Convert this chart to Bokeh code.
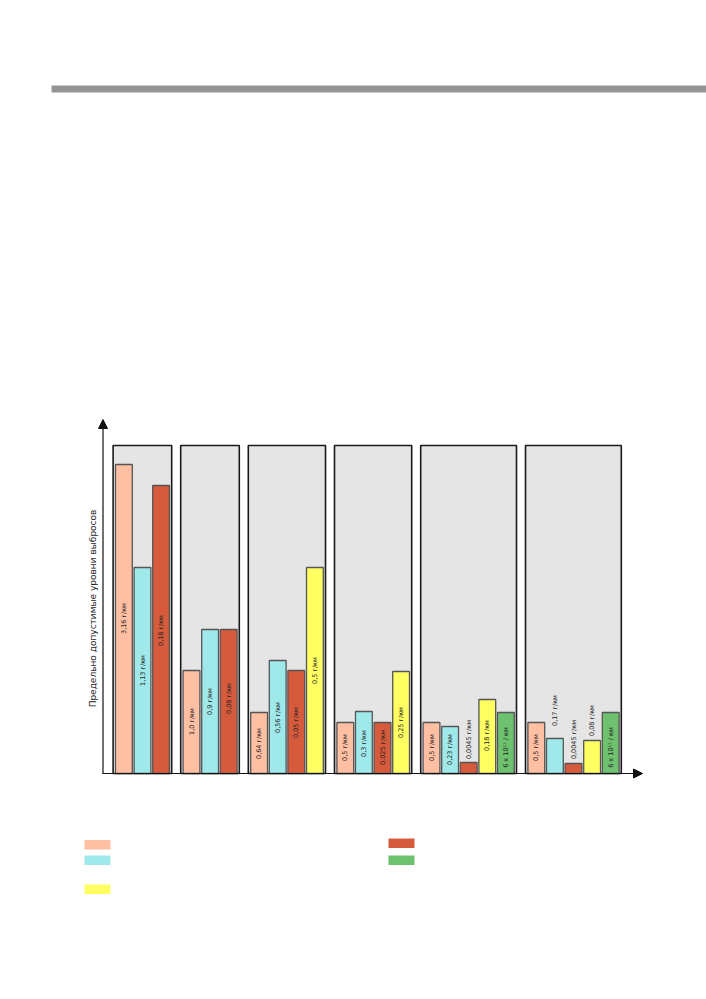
from bokeh.plotting import figure
from bokeh.models import Range1d, ColumnDataSource, Arrow, NormalHead
from bokeh.core.properties import value
from bokeh.embed import file_html
from bokeh.resources import INLINE
import math

# ---- data ----
group_sizes = [3, 3, 4, 4, 5, 5]
series_keys = [
    ["a", "b", "c"],
    ["a", "b", "c"],
    ["a", "b", "c", "d"],
    ["a", "b", "c", "d"],
    ["a", "b", "c", "d", "e"],
    ["a", "b", "c", "d", "e"],
]
bar_heights = [
    [309, 206, 288],
    [103, 144, 144],
    [61, 113, 103, 206],
    [51, 62, 51, 102],
    [51, 47, 11, 74, 61],
    [51, 35, 10, 33, 61],
]
bar_labels = [
    ["3,16 г/км", "1,13 г/км", "0,18 г/км"],
    ["1,0 г/км", "0,9 г/км", "0,08 г/км"],
    ["0,64 г/км", "0,56 г/км", "0,05 г/км", "0,5 г/км"],
    ["0,5 г/км", "0,3 г/км", "0,025 г/км", "0,25 г/км"],
    ["0,5 г/км", "0,23 г/км", "0,0045 г/км", "0,18 г/км", "6 x 10¹¹ / км"],
    ["0,5 г/км", "0,17 г/км", "0,0045 г/км", "0,08 г/км", "6 x 10¹¹ / км"],
]
label_y = [
    [155, 103, 143],
    [52, 72, 75],
    [30, 56, 51, 103],
    [26, 30, 26, 51],
    [26, 24, 34, 38, 26],
    [26, 63, 34, 53, 26],
]
y_title = "Предельно допустимые уровни выбросов"
series_colors = {"a": "#FFBFA2", "b": "#A0E9EA", "c": "#D65B3D", "d": "#FFFF62", "e": "#6DC16F"}
legend_keys = ["a", "b", "d", "c", "e"]

# ---- layout constants (page px) ----
W, H = 706, 990
X0 = 115.0      # left edge of first bar
PITCH = 18.6
GAP = 11.8
BW = 16.8
BASE = 773.0    # page y of baseline
PANEL_TOP = 328

p = figure(width=W, height=H, output_backend="svg", toolbar_location=None,
           x_range=Range1d(0, W), y_range=Range1d(BASE - H, BASE),
           min_border=0, outline_line_color=None)
p.axis.visible = False
p.grid.visible = False
p.background_fill_color = "white"
p.border_fill_color = "white"

# top band
p.quad(left=[51], right=[720], bottom=[BASE - 92], top=[BASE - 85],
       fill_color="#949494", line_color=None)

# compute bars
bx, bt, bc, lx, ly, lt = [], [], [], [], [], []
pl, pr = [], []
s = 0
for g, n in enumerate(group_sizes):
    lefts = []
    for i in range(n):
        left = X0 + s * PITCH + g * GAP
        lefts.append(left)
        bx.append(left + BW / 2)
        bt.append(bar_heights[g][i])
        bc.append(series_colors[series_keys[g][i]])
        lx.append(left + BW / 2)
        ly.append(label_y[g][i])
        lt.append(bar_labels[g][i])
        s += 1
    pl.append(lefts[0] - 2.4)
    pr.append(lefts[-1] + BW + 2.2)

p.quad(left=pl, right=pr, bottom=[0] * len(pl), top=[PANEL_TOP] * len(pl),
       fill_color="#E4E5E4", line_color="#1a1a1a", line_width=1.6)

src = ColumnDataSource(dict(x=bx, top=bt, color=bc))
p.vbar(x="x", width=BW, bottom=0, top="top", fill_color="color",
       line_color="#555555", line_width=1.3, source=src)

lsrc = ColumnDataSource(dict(x=lx, y=ly, t=lt))
p.text(x="x", y="y", text="t", source=lsrc, angle=math.pi / 2,
       text_align="center", text_baseline="middle",
       text_font=value("DejaVu Sans"), text_font_size="6.5px", text_color="#222222")

# axes with arrows
p.add_layout(Arrow(x_start=102.5, y_start=0, x_end=102.5, y_end=BASE - 419,
                   line_color="#111111", line_width=1.2,
                   end=NormalHead(size=9, fill_color="#111111", line_color="#111111")))
p.add_layout(Arrow(x_start=102, y_start=0, x_end=642, y_end=0,
                   line_color="#111111", line_width=1.2,
                   end=NormalHead(size=9, fill_color="#111111", line_color="#111111")))

# y title
p.text(x=[92], y=[BASE - 608], text=[y_title], angle=math.pi / 2,
       text_align="center", text_baseline="middle",
       text_font=value("DejaVu Sans"), text_font_size="9px", text_color="#222222")

# legend swatches (no text in reference)
sw_x = [84, 84, 84, 388, 388]
sw_y = [839.5, 855, 884, 838, 855]
for k, x, y in zip(legend_keys, sw_x, sw_y):
    p.quad(left=[x], right=[x + 26], top=[BASE - y], bottom=[BASE - y - 9.5],
           fill_color=series_colors[k], line_color=None)

open("out.html", "w").write(file_html(p, INLINE))
